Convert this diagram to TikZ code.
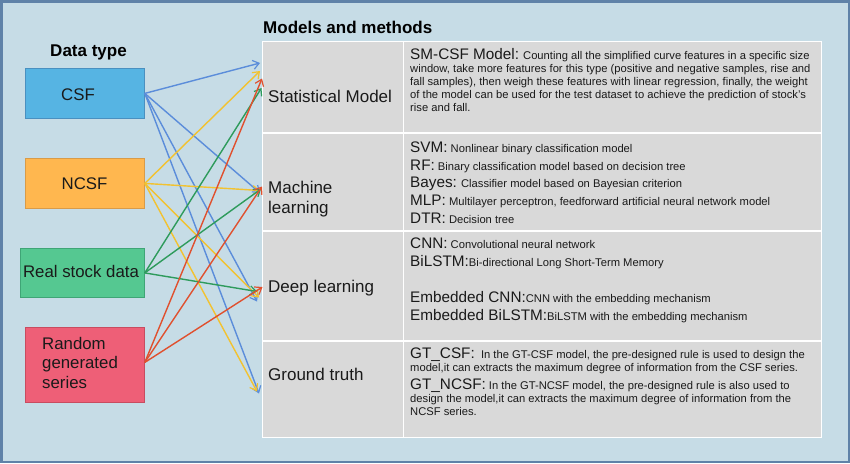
\documentclass[tikz,border=0pt]{standalone}
\usepackage{fontspec}
\setmainfont{Liberation Sans}
\usetikzlibrary{arrows.meta}
\definecolor{bgblue}{HTML}{C6DCE6}
\definecolor{frameblue}{HTML}{5F82A8}
\definecolor{cellgray}{HTML}{D9D9D9}
\definecolor{csffill}{HTML}{56B4E3}
\definecolor{csfdraw}{HTML}{4A90C0}
\definecolor{ncsffill}{HTML}{FFB74F}
\definecolor{ncsfdraw}{HTML}{D99B48}
\definecolor{realfill}{HTML}{55C891}
\definecolor{realdraw}{HTML}{3FA576}
\definecolor{randfill}{HTML}{EE5F77}
\definecolor{randdraw}{HTML}{C84C60}
\definecolor{arblue}{HTML}{5B8DDA}
\definecolor{aryellow}{HTML}{F2C230}
\definecolor{argreen}{HTML}{2E9B5C}
\definecolor{arred}{HTML}{E0502E}
\definecolor{textdark}{HTML}{1A1A1A}
\newcommand{\keyf}{\fontsize{15.3}{18}\selectfont}
\newcommand{\descf}{\fontsize{11.2}{13.3}\selectfont}
\begin{document}
\begin{tikzpicture}[x=1pt,y=-1pt,
  databox/.style={draw=#1draw, fill=#1fill, line width=0.8pt, anchor=north west, inner sep=0pt},
  cell/.style={draw=white, line width=1.6pt, fill=cellgray, anchor=north west, inner sep=0pt},
  boxtext/.style={anchor=base, inner sep=0pt, text=textdark, font=\fontsize{16.8}{19.5}\selectfont},
  rowlabel/.style={anchor=base west, inner sep=0pt, text=textdark, font=\fontsize{17}{20}\selectfont},
  descline/.style={anchor=base west, inner sep=0pt, text=textdark, font=\descf},
  title/.style={anchor=base, inner sep=0pt, font=\fontsize{17}{20}\selectfont\bfseries},
  arr/.style={line width=1.4pt, -{Straight Barb[length=6pt,width=9pt,line width=1.2pt]}}]
% background
\fill[bgblue] (0,0) rectangle (850,463);
\draw[frameblue, line width=2.5pt] (1.25,1.25) rectangle (848.75,461.75);
\useasboundingbox (0,0) rectangle (850,463);

% titles
\node[title] (dtitle) at (88.5,56) {Data type};
\node[title, anchor=base west] (mtitle) at (263,33) {Models and methods};

% table cells
\node[cell, minimum width=141pt, minimum height=91.3pt] (statl) at (261.7,40.7) {};
\node[cell, minimum width=418pt, minimum height=91.3pt] (statr) at (402.7,40.7) {};
\node[cell, minimum width=141pt, minimum height=98pt] (mll) at (261.7,132) {};
\node[cell, minimum width=418pt, minimum height=98pt] (mlr) at (402.7,132) {};
\node[cell, minimum width=141pt, minimum height=110pt] (dll) at (261.7,230) {};
\node[cell, minimum width=418pt, minimum height=110pt] (dlr) at (402.7,230) {};
\node[cell, minimum width=141pt, minimum height=96.7pt] (gtl) at (261.7,340) {};
\node[cell, minimum width=418pt, minimum height=96.7pt] (gtr) at (402.7,340) {};

% row labels
\node[rowlabel] (lstat) at (268,102) {Statistical Model};
\node[rowlabel] (lml1) at (268,193) {Machine};
\node[rowlabel] (lml2) at (268,213) {learning};
\node[rowlabel] (ldl) at (268,292.5) {Deep learning};
\node[rowlabel] (lgt) at (268,380.5) {Ground truth};

% statistical model text
\node[descline] (s1) at (410,59.3) {{\keyf SM-CSF Model:} Counting all the simplified curve features in a specific size};
\node[descline] (s2) at (410,72) {window, take more features for this type (positive and negative samples, rise and};
\node[descline] (s3) at (410,85.3) {fall samples), then weigh these features with linear regression, finally, the weight};
\node[descline] (s4) at (410,98.6) {of the model can be used for the test dataset to achieve the prediction of stock's};
\node[descline] (s5) at (410,111.9) {rise and fall.};

% machine learning text
\node[descline] (m1) at (410,152.5) {{\keyf SVM:} Nonlinear binary classification model};
\node[descline] (m2) at (410,170.2) {{\keyf RF:} Binary classification model based on decision tree};
\node[descline] (m3) at (410,187.9) {{\keyf Bayes:} Classifier model based on Bayesian criterion};
\node[descline] (m4) at (410,205.6) {{\keyf MLP:} Multilayer perceptron, feedforward artificial neural network model};
\node[descline] (m5) at (410,223.3) {{\keyf DTR:} Decision tree};

% deep learning text
\node[descline] (d1) at (410,248.5) {{\keyf CNN:} Convolutional neural network};
\node[descline] (d2) at (410,266.5) {{\keyf BiLSTM:}Bi-directional Long Short-Term Memory};
\node[descline] (d3) at (410,302.5) {{\keyf Embedded CNN:}CNN with the embedding mechanism};
\node[descline] (d4) at (410,320.5) {{\keyf Embedded BiLSTM:}BiLSTM with the embedding mechanism};

% ground truth text
\node[descline] (g1) at (410,358) {{\keyf GT\_CSF:}\ \ In the GT-CSF model, the pre-designed rule is used to design the};
\node[descline] (g2) at (410,371.5) {model,it can extracts the maximum degree of information from the CSF series.};
\node[descline] (g3) at (410,389.5) {{\keyf GT\_NCSF:} In the GT-NCSF model, the pre-designed rule is also used to};
\node[descline] (g4) at (410,402.5) {design the model,it can extracts the maximum degree of information from the};
\node[descline] (g5) at (410,415.5) {NCSF series.};

% data boxes
\node[databox=csf, minimum width=119pt, minimum height=50pt] (csf) at (25,68) {};
\node[databox=ncsf, minimum width=119pt, minimum height=50pt] (ncsf) at (25,158) {};
\node[databox=real, minimum width=124pt, minimum height=49pt] (real) at (20,248) {};
\node[databox=rand, minimum width=119pt, minimum height=75pt] (rand) at (25,327) {};
\node[boxtext] (tcsf) at (78,100) {CSF};
\node[boxtext] (tncsf) at (84.5,189) {NCSF};
\node[boxtext] (treal) at (81,277) {Real stock data};
\node[boxtext, anchor=base west] (trand1) at (42,349) {Random};
\node[boxtext, anchor=base west] (trand2) at (42,368.5) {generated};
\node[boxtext, anchor=base west] (trand3) at (42,388) {series};

% arrow tips
\coordinate (sB) at (260,63);
\coordinate (sY) at (260,71);
\coordinate (sR) at (262,78.5);
\coordinate (sG) at (261.5,88);
\coordinate (mB) at (260,193);
\coordinate (mY) at (260,190.5);
\coordinate (mG) at (261,189);
\coordinate (mR) at (262,186.5);
\coordinate (dR) at (262.5,287);
\coordinate (dG) at (257,291.5);
\coordinate (dY) at (259,297.5);
\coordinate (dB) at (257,301.5);
\coordinate (gY) at (257,391.5);
\coordinate (gB) at (259,393.5);

% arrows
\draw[arr, arblue] (csf.east) -- (sB);
\draw[arr, arblue] (csf.east) -- (mB);
\draw[arr, arblue] (csf.east) -- (dB);
\draw[arr, arblue] (csf.east) -- (gB);
\draw[arr, aryellow] (ncsf.east) -- (sY);
\draw[arr, aryellow] (ncsf.east) -- (mY);
\draw[arr, aryellow] (ncsf.east) -- (dY);
\draw[arr, aryellow] (ncsf.east) -- (gY);
\draw[arr, argreen] (real.east) -- (sG);
\draw[arr, argreen] (real.east) -- (mG);
\draw[arr, argreen] (real.east) -- (dG);
\draw[arr, arred] ([yshift=2.5pt]rand.east) -- (sR);
\draw[arr, arred] ([yshift=2.5pt]rand.east) -- (mR);
\draw[arr, arred] ([yshift=2.5pt]rand.east) -- (dR);
\end{tikzpicture}
\end{document}
